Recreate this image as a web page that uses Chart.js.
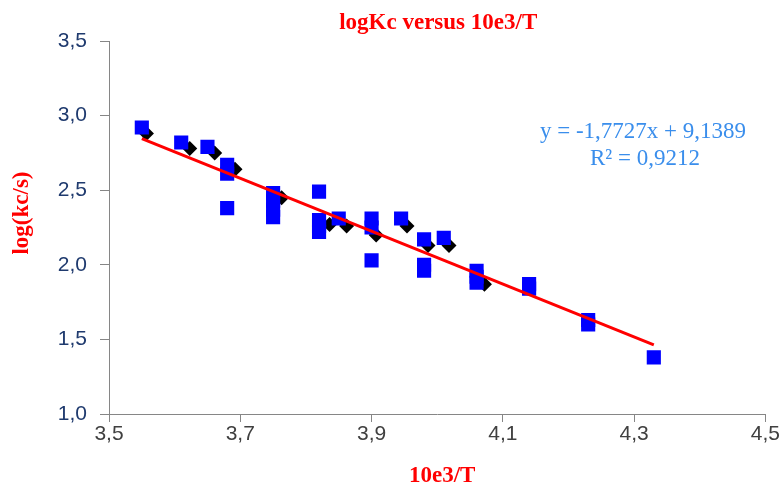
<!DOCTYPE html>
<html>
<head>
<meta charset="utf-8">
<script src="https://cdn.jsdelivr.net/npm/chart.js@4.4.1/dist/chart.umd.min.js"></script>
<style>
  html, body { margin: 0; padding: 0; background: #ffffff; }
  #wrap { width: 780px; height: 486px; }
</style>
</head>
<body>
<div id="wrap"><canvas id="c" width="780" height="486"></canvas></div>
<script>
// Measured points: x = 10e3/T, y = log(kc/s)
const squareX = [3.55, 3.61, 3.65, 3.68, 3.68, 3.68, 3.75, 3.75, 3.75, 3.75, 3.82, 3.82, 3.82, 3.82, 3.85, 3.90, 3.90, 3.90, 3.945, 3.98, 3.98, 3.98, 4.01, 4.06, 4.06, 4.06, 4.14, 4.14, 4.23, 4.23, 4.33];
const squareY = [2.92, 2.82, 2.79, 2.67, 2.61, 2.38, 2.48, 2.43, 2.37, 2.32, 2.49, 2.30, 2.26, 2.22, 2.31, 2.31, 2.25, 2.03, 2.31, 2.17, 2.00, 1.96, 2.18, 1.96, 1.92, 1.88, 1.87, 1.84, 1.63, 1.60, 1.38];

const diamondX = [3.557, 3.623, 3.661, 3.692, 3.763, 3.836, 3.862, 3.907, 3.954, 3.986, 4.018, 4.072];
const diamondY = [2.88, 2.78, 2.75, 2.64, 2.45, 2.27, 2.26, 2.20, 2.26, 2.13, 2.13, 1.87];

// Linear trend: y = slope * x + intercept
const slope = -1.7727;
const intercept = 9.1389;
const rSquared = 0.9212;
const trendRange = [3.55, 4.33];

const xTickValues = [3.5, 3.7, 3.9, 4.1, 4.3, 4.5];
const xTickLabels = ['3,5', '3,7', '3,9', '4,1', '4,3', '4,5'];
const yTickValues = [1.0, 1.5, 2.0, 2.5, 3.0, 3.5];
const yTickLabels = ['1,0', '1,5', '2,0', '2,5', '3,0', '3,5'];

const titleText = 'logKc versus 10e3/T';
const xTitle = '10e3/T';
const yTitle = 'log(kc/s)';

const fmt = v => v.toFixed(4).replace('.', ',');
const eqLine = 'y = ' + fmt(slope) + 'x + ' + fmt(intercept);
const r2Line = 'R\u00B2 = ' + fmt(rSquared);

const squares = squareX.map((x, i) => ({ x: x, y: squareY[i] }));
const diamonds = diamondX.map((x, i) => ({ x: x, y: diamondY[i] }));
const trend = trendRange.map(x => ({ x: x, y: slope * x + intercept }));

const tickFont = { family: "'Liberation Sans Narrow', 'Liberation Sans', sans-serif", size: 21 };
const serifBold = "bold 23px 'Liberation Serif', 'Times New Roman', serif";

// Titles and equation text drawn on the canvas
const textPlugin = {
  id: 'chartText',
  afterDraw(chart) {
    const ctx = chart.ctx;
    const area = chart.chartArea;
    ctx.save();
    ctx.fillStyle = '#FF0000';
    ctx.font = serifBold;
    ctx.textAlign = 'center';
    ctx.textBaseline = 'middle';
    const cx = (area.left + area.right) / 2;
    ctx.fillText(titleText, cx + 1, 23);
    ctx.fillText(xTitle, cx + 5, 476);
    ctx.save();
    ctx.translate(22, 213);
    ctx.rotate(-Math.PI / 2);
    ctx.fillText(yTitle, 0, 0);
    ctx.restore();

    ctx.fillStyle = '#3A8EEC';
    ctx.font = "23px 'Liberation Serif', 'Times New Roman', serif";
    ctx.fillText(eqLine, 643, 132);
    ctx.fillText(r2Line, 645, 159);
    ctx.restore();
  }
};

new Chart(document.getElementById('c'), {
  type: 'scatter',
  data: {
    datasets: [
      {
        type: 'line',
        label: 'trend',
        data: trend,
        borderColor: '#FF0000',
        borderWidth: 3,
        pointRadius: 0,
        fill: false,
        order: 0
      },
      {
        label: 'squares',
        data: squares,
        pointStyle: 'rect',
        pointRadius: 10,
        pointHoverRadius: 10,
        backgroundColor: '#0000FF',
        borderWidth: 0,
        order: 1
      },
      {
        label: 'diamonds',
        data: diamonds,
        pointStyle: 'rectRot',
        pointRadius: 7.5,
        pointHoverRadius: 7.5,
        backgroundColor: '#000000',
        borderWidth: 0,
        order: 2
      }
    ]
  },
  options: {
    responsive: false,
    animation: false,
    events: [],
    layout: { padding: { top: 41, right: 14, left: 0, bottom: 0 } },
    plugins: {
      legend: { display: false },
      tooltip: { enabled: false },
      title: { display: false }
    },
    scales: {
      x: {
        type: 'linear',
        min: 3.5,
        max: 4.5,
        afterFit(scale) { scale.height = 72; },
        afterBuildTicks(scale) { scale.ticks = xTickValues.map(v => ({ value: v })); },
        grid: { display: true, drawOnChartArea: false, drawTicks: true, tickLength: 8, color: '#868686' },
        border: { display: true, color: '#868686', width: 1 },
        ticks: {
          color: '#404040',
          font: tickFont,
          padding: 0,
          maxRotation: 0,
          callback: (v, i) => xTickLabels[i]
        }
      },
      y: {
        type: 'linear',
        min: 1.0,
        max: 3.5,
        afterFit(scale) { scale.width = 109; },
        afterBuildTicks(scale) { scale.ticks = yTickValues.map(v => ({ value: v })); },
        grid: { display: true, drawOnChartArea: false, drawTicks: true, tickLength: 9, color: '#868686' },
        border: { display: true, color: '#868686', width: 1 },
        ticks: {
          color: '#1F3A6E',
          font: tickFont,
          padding: 13,
          callback: (v, i) => yTickLabels[i]
        }
      }
    }
  },
  plugins: [textPlugin]
});
</script>
</body>
</html>
